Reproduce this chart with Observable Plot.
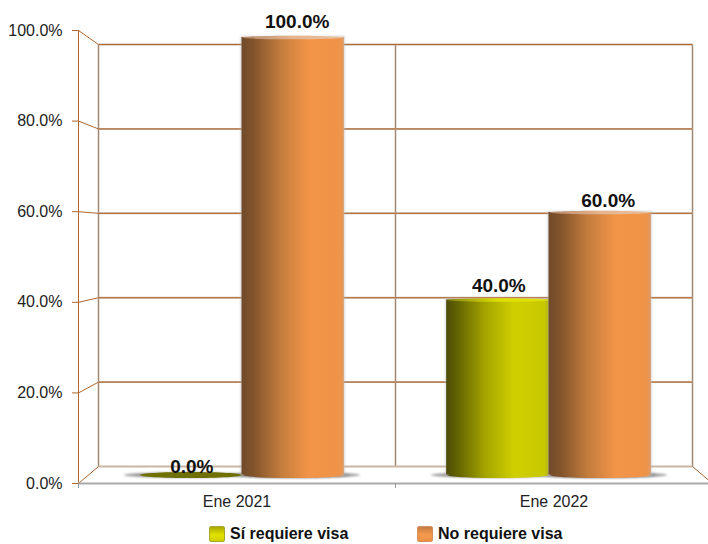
<!DOCTYPE html>
<html><head><meta charset="utf-8">
<script src="https://cdn.jsdelivr.net/npm/d3@7"></script>
<script src="https://cdn.jsdelivr.net/npm/@observablehq/plot@0.6"></script>
<style>
html,body{margin:0;padding:0;background:#fff;overflow:hidden;width:708px;height:544px}
#legend{display:flex;height:22px;font:bold 16px "Liberation Sans",Arial,sans-serif;color:#111;position:relative}
.it{position:absolute;top:3px;display:flex;align-items:center;height:18px}
.sw{width:14px;height:14px;margin-right:5px;border:1px solid;border-radius:2px}
</style></head><body>
<div id="chart"></div>
<div id="legend"></div>
<script>
const categories = ["Ene 2021", "Ene 2022"];
const seriesNames = ["Sí requiere visa", "No requiere visa"];
const siRequiere = [0, 40];
const noRequiere = [100, 60];
const valueTicks = [0, 20, 40, 60, 80, 100];
const wallV = [0, 1, 2];
const barWidth = 1 / 3;

// Depth projection of the 3D box, in data units: d = 0 front, 0.5 bars, 1 back wall
const px = (u, d) => 1 + (u - 1) * (1 - 0.0631 * d);
const py = (v, d) => 3.75 * d + v * (1 - 0.0685 * d);

const bars = [];
categories.forEach((c, i) => {
  bars.push({cat: c, s: 0, v: siRequiere[i], l: i + 0.5 - barWidth, r: i + 0.5});
  bars.push({cat: c, s: 1, v: noRequiere[i], l: i + 0.5, r: i + 0.5 + barWidth});
});
const data = bars.map(b => ({...b, x1: px(b.l, .5), x2: px(b.r, .5), xc: px((b.l + b.r) / 2, .5),
                             y0: py(0, .5), yt: py(b.v, .5)}));
const pos = data.filter(d => d.v > 0);

const ell = k => ({draw(ctx, size) {
  const r = Math.sqrt(size / Math.PI), ry = r * k, c = 0.5523;
  ctx.moveTo(-r, 0);
  ctx.bezierCurveTo(-r, -ry * c, -r * c, -ry, 0, -ry);
  ctx.bezierCurveTo(r * c, -ry, r, -ry * c, r, 0);
  ctx.bezierCurveTo(r, ry * c, r * c, ry, 0, ry);
  ctx.bezierCurveTo(-r * c, ry, -r, ry * c, -r, 0);
  ctx.closePath();
}});

const wall = "#b0662e";
const wallPale = "#c9b6a6";
const fills = ["url(#gY)", "url(#gO)"];
const caps = ["url(#cY)", "url(#cO)"];
const byS = (arr, s) => arr.filter(d => d.s === s);

const wallGrid = valueTicks.map(v => ({v, x1: px(0, 1), x2: px(2, 1), y: py(v, 1)}));
const wallVert = wallV.map(u => ({x: px(u, 1), y1: py(0, 1), y2: py(100, 1)}));
const slants = valueTicks.map(v => ({x1: 0, y1: v, x2: px(0, 1), y2: py(v, 1)}));
slants.push({x1: 2, y1: 0, x2: px(2, 1), y2: py(0, 1)});

const barMarks = s => [
  Plot.dot(byS(pos, s), {x: "xc", y: "y0", r: 50.5, symbol: ell(0.06), fill: fills[s], stroke: "none"}),
  Plot.rect(byS(pos, s), {x1: "x1", x2: "x2", y1: "y0", y2: "yt", fill: fills[s]}),
  Plot.dot(byS(pos, s), {x: "xc", y: "yt", r: 50.5, symbol: ell(0.035), fill: caps[s], stroke: "none"})
];

const label = (d, dx, dy) => Plot.text([d], {x: "xc", y: "yt", text: r => r.v.toFixed(1) + "%", dx, dy,
  fontSize: 19, fontWeight: "bold", fill: "#111"});
const find = (s, i) => data[i * 2 + s];

const chart = Plot.plot({
  width: 708, height: 522,
  marginLeft: 78, marginRight: 0, marginTop: 30, marginBottom: 39,
  x: {type: "linear", domain: [0, 2], range: [78, 712]},
  y: {type: "linear", domain: [0, 100], range: [483, 30]},
  style: {fontFamily: '"Liberation Sans",Arial,sans-serif', background: "#fff", overflow: "visible"},
  marks: [
    Plot.link(wallVert, {x1: "x", x2: "x", y1: "y1", y2: "y2", stroke: "#a08873", strokeWidth: 1.5}),
    Plot.link(wallGrid, {x1: "x1", x2: "x2", y1: "y", y2: "y", stroke: wallPale, strokeWidth: 2}),
    Plot.link(wallGrid.filter(d => d.v > 0), {x1: "x1", x2: "x2", y1: "y", y2: "y", stroke: wall, strokeWidth: 1}),
    Plot.link(slants, {x1: "x1", y1: "y1", x2: "x2", y2: "y2", stroke: wall, strokeWidth: 1}),
    Plot.ruleX([0], {y1: 0, y2: 100, stroke: wall, strokeWidth: 1}),
    Plot.dot(data, {x: "xc", dx: -5, y: "y0", r: 62, symbol: ell(0.045), fill: "#999", imageFilter: "blur(1px)"}),
    Plot.dot(byS(pos, 1), {x: "xc", dx: 5, y: "y0", r: 62, symbol: ell(0.045), fill: "#999", imageFilter: "blur(1px)"}),
    Plot.rect(pos, {x1: "x1", x2: "x2", y1: "y0", y2: "yt", fill: "#bbb", inset: -1, imageFilter: "blur(1px)", fillOpacity: 0.6}),
    ...barMarks(0),
    ...barMarks(1),
    Plot.dot(data.filter(d => d.v === 0), {x: "xc", y: "y0", r: 51, symbol: ell(0.06), fill: "#6f6f00"}),
    Plot.ruleY([0], {stroke: "#aaa", strokeWidth: 2}),
    Plot.axisY({ticks: valueTicks, tickFormat: d => d.toFixed(1) + "%", tickSize: 6, tickPadding: 10, fontSize: 16, stroke: wall, color: "#222", label: null}),
    Plot.axisX({ticks: [0, 1, 2], tickFormat: () => "", tickSize: 5, stroke: "#999", label: null}),
    Plot.axisX({ticks: [0.5, 1.5], tickFormat: d => categories[Math.floor(d)], tickSize: 0, tickPadding: 12, fontSize: 16, color: "#222", label: null}),
    label(find(0, 0), 1, -8),
    label(find(1, 0), 4, -16),
    label(find(0, 1), 1, -14),
    label(find(1, 1), 8, -12)
  ]
});

const defs = d3.select(chart).insert("defs", ":first-child");
function grad(id, stops) {
  const g = defs.append("linearGradient").attr("id", id).attr("x1", 0).attr("x2", 1).attr("y1", 0).attr("y2", 0);
  stops.forEach(([o, c]) => g.append("stop").attr("offset", o).attr("stop-color", c));
}
grad("gY", [[0, "#4c4c06"], [0.12, "#656502"], [0.38, "#a4a400"], [0.66, "#cfcf00"], [0.96, "#c8c800"], [1, "#b4b420"]]);
grad("gO", [[0, "#714a2a"], [0.12, "#83542c"], [0.38, "#c27c3d"], [0.66, "#f39548"], [0.96, "#ef9348"], [1, "#dd9a68"]]);
grad("cY", [[0, "#8a8a10"], [0.5, "#dede00"], [1, "#e4e410"]]);
grad("cO", [[0, "#b58a68"], [0.5, "#e6b48e"], [1, "#e8c0a0"]]);
document.getElementById("chart").append(chart);
chart.style.display = "block";

const lg = document.getElementById("legend");
[["linear-gradient(#a8a800 0%,#e2e200 55%,#d0d000 100%)", "#a6a62a", 209],
 ["linear-gradient(#c77c40 0%,#f49a4e 55%,#ee9044 100%)", "#d49060", 417]].forEach(([c, b, left], i) => {
  const it = document.createElement("div");
  it.className = "it"; it.style.left = left + "px";
  const sw = document.createElement("span");
  sw.className = "sw"; sw.style.background = c; sw.style.borderColor = b;
  it.append(sw, document.createTextNode(seriesNames[i]));
  lg.append(it);
});
</script>
</body></html>
